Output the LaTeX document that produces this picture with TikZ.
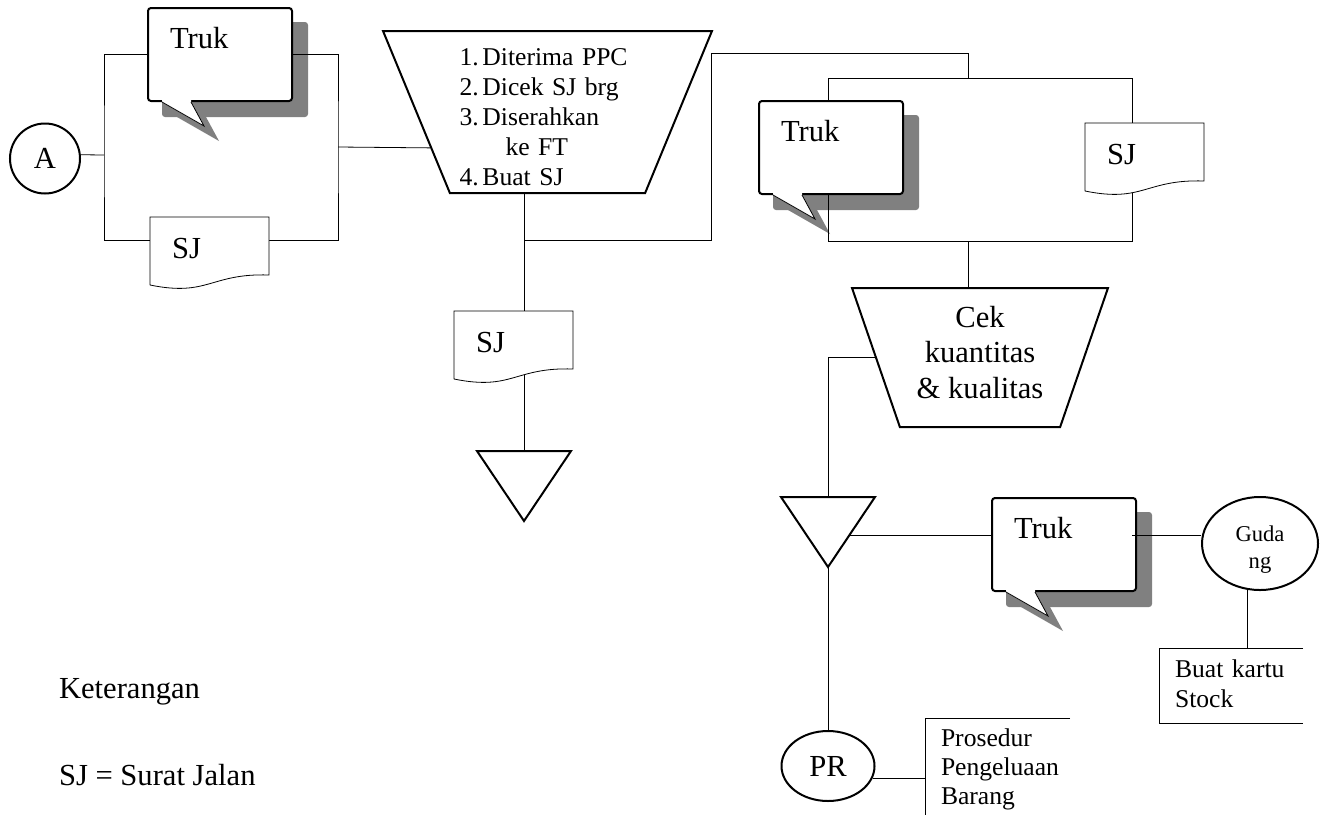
\documentclass[tikz,border=0pt]{standalone}
\usepackage{fontspec}
\setmainfont{Liberation Serif}
\usetikzlibrary{shapes}
\pgfdeclarelayer{bg}
\pgfdeclarelayer{mid}
\pgfsetlayers{bg,mid,main}
\hyphenpenalty=10000

\begin{document}
\begin{tikzpicture}[x = 0.5pt, y = -0.5pt, line width = 1pt, font = \fontsize{15.3pt}{18pt}\selectfont]
	\tikzstyle{trukStyle} = [shape = rectangle, draw, fill = white, rounded corners = 1.5pt, anchor = north west, inner xsep = 11pt, inner ysep = 0pt, text width = 50pt, text height = 20pt, text depth = 26.5pt, align = left]
	\tikzstyle{docStyle} = [shape = rectangle, anchor = north west, inner xsep = 10.5pt, inner ysep = 0pt, text width = 37.5pt, text height = 20pt, text depth = 13pt, align = left]
	\tikzstyle{procStyle} = [shape = trapezium, draw, fill = white, shape border rotate = 180, trapezium stretches = true, inner sep = 0pt]
	\tikzstyle{ovalStyle} = [shape = ellipse, draw, fill = white, inner sep = 0pt]
	\tikzstyle{noteStyle} = [shape = rectangle, anchor = north west, inner xsep = 7.5pt, inner ysep = 0pt, text width = 62pt, align = left, font = \fontsize{12.8pt}{15pt}\selectfont]
	\tikzstyle{textStyle} = [anchor = base west, inner sep = 0pt]
	\useasboundingbox (0,0) rectangle (1321,814);
	\node[shape = circle, draw, fill = white, minimum size = 35pt, inner sep = 0pt] (A) at (45,158.5) {A};
	\node[trukStyle] (trukA) at (147,7) {Truk};
	\node[docStyle] (sjA) at (150,217) {SJ};
	\node[procStyle, minimum width = 164.5pt, minimum height = 81pt, trapezium angle = 67.68, text width = 88pt, align = left, font = \fontsize{12.8pt}{15pt}\selectfont] (procA) at (547.5,112) {\rule{0pt}{13.2pt}\makebox[11.5pt][l]{1.}Diterima PPC\\\makebox[11.5pt][l]{2.}Dicek SJ brg\\\makebox[11.5pt][l]{3.}Diserahkan\\\hspace*{23pt}ke FT\\\makebox[11.5pt][l]{4.}Buat SJ};
	\node[docStyle] (sjB) at (454,311) {SJ};
	\node[trukStyle] (trukB) at (758,100) {Truk};
	\node[docStyle] (sjC) at (1085,123) {SJ};
	\node[procStyle, minimum width = 128pt, minimum height = 69.5pt, trapezium angle = 69.85, align = center, font = \fontsize{15.3pt}{17.75pt}\selectfont] (cek) at (980,357.5) {Cek\\kuantitas\\\& kualitas\rule[-5.4pt]{0pt}{5.4pt}};
	\node[trukStyle] (trukC) at (991,497) {Truk};
	\node[ovalStyle, minimum width = 58pt, minimum height = 46.5pt, text width = 40pt, align = center, font = \fontsize{11.3pt}{13.5pt}\selectfont] (guda) at (1260,543.5) {\rule{0pt}{13.7pt}Guda\\ng};
	\node[noteStyle, text height = 14pt, text depth = 22.5pt] (kartu) at (1159,648) {Buat kartu\\Stock};
	\node[ovalStyle, minimum width = 46.5pt, minimum height = 35pt] (pr) at (828,766) {PR};
	\node[noteStyle, text height = 13.5pt, text depth = 34pt, font = \fontsize{12.8pt}{14.5pt}\selectfont] (prosedur) at (925,718) {Prosedur\\Pengeluaan\\Barang};
	\node[textStyle] (ket) at (58,698) {Keterangan};
	\node[textStyle] (legend) at (58,785) {SJ = Surat Jalan};
	\coordinate (brL) at (104,155);
	\coordinate (brR) at (338,147);
	\coordinate (endA) at (524,451);
	\coordinate (jA) at (524,240);
	\coordinate (jB) at (711,53);
	\coordinate (rbNW) at (828,78);
	\coordinate (rbSE) at (1132,241);
	\coordinate (rbTop) at (968,78);
	\coordinate (rbBot) at (968,241);
	\coordinate (mergeB) at (828,497);
	\coordinate (mergeR) at (849.5,535);
	\draw[fill = white] ([xshift = -23.5pt]endA) -- ([xshift = 23.5pt]endA) -- ([yshift = -35pt]endA) -- cycle;
	\draw[fill = white] ([xshift = -23.5pt]mergeB) -- ([xshift = 23.5pt]mergeB) -- ([yshift = -35pt]mergeB) -- cycle;
	\foreach \tk in {trukA, trukB, trukC} {
		\begin{pgfonlayer}{bg}
			\fill[black!50, rounded corners = 1.5pt] ([xshift = 7.5pt, yshift = -7.5pt]\tk.north west) rectangle ([xshift = 7.5pt, yshift = -7.5pt]\tk.south east);
			\fill[black!50] ([xshift = 15pt, yshift = -7.5pt]\tk.south west) -- ([xshift = 36pt, yshift = -19.5pt]\tk.south west) -- ([xshift = 29.5pt, yshift = -7.5pt]\tk.south west) -- cycle;
		\end{pgfonlayer}
		\fill[white] ([xshift = 7.5pt, yshift = 1pt]\tk.south west) -- ([xshift = 7.5pt]\tk.south west) -- ([xshift = 28.5pt, yshift = -12pt]\tk.south west) -- ([xshift = 22pt]\tk.south west) -- ([xshift = 22pt, yshift = 1pt]\tk.south west) -- cycle;
		\draw ([xshift = 7.5pt]\tk.south west) -- ([xshift = 28.5pt, yshift = -12pt]\tk.south west) -- ([xshift = 22pt]\tk.south west);
	}
	\begin{pgfonlayer}{mid}
		\draw (A.6) -- (brL);
		\draw (trukA.west) -| (brL) |- ([yshift = -11.5pt]sjA.north west);
		\draw (trukA.east) -| (brR) |- ([yshift = -11.5pt]sjA.north east);
		\draw (brR) -- (procA.197);
		\draw (procA.270 -| endA) -- (sjB.north -| endA);
		\draw (sjB.center -| endA) -- (endA);
		\draw (jA) -| (jB) -| (rbTop);
		\draw (rbNW) rectangle (rbSE);
		\draw (rbBot) -- (cek.90 -| rbBot);
		\draw (cek.180) -| (mergeB);
		\draw (mergeR) -- (trukC.west |- mergeR);
		\draw ([yshift = -35pt]mergeB) -- (pr.north);
		\draw (pr.345) -- (prosedur.west |- pr.345);
		\draw (guda.255) -- (guda.255 |- kartu.north);
		\foreach \dc in {sjA, sjB, sjC}
			\draw[fill = white] (\dc.south west) -- (\dc.north west) -- (\dc.north east) -- ([yshift = 5pt]\dc.south east) .. controls +(-29.25pt,1pt) and +(29.25pt,-6pt) .. (\dc.south west);
	\end{pgfonlayer}
	\draw ([xshift = -2.5pt]trukC.east |- mergeR) -- (guda.west |- mergeR);
	\draw ([xshift = 72pt]kartu.north west) -- (kartu.north west) -- (kartu.south west) -- ([xshift = 72pt]kartu.south west);
	\draw ([xshift = 72.5pt]prosedur.north west) -- (prosedur.north west) -- (prosedur.south west) -- ([xshift = 72.5pt]prosedur.south west);
\end{tikzpicture}
\end{document}
